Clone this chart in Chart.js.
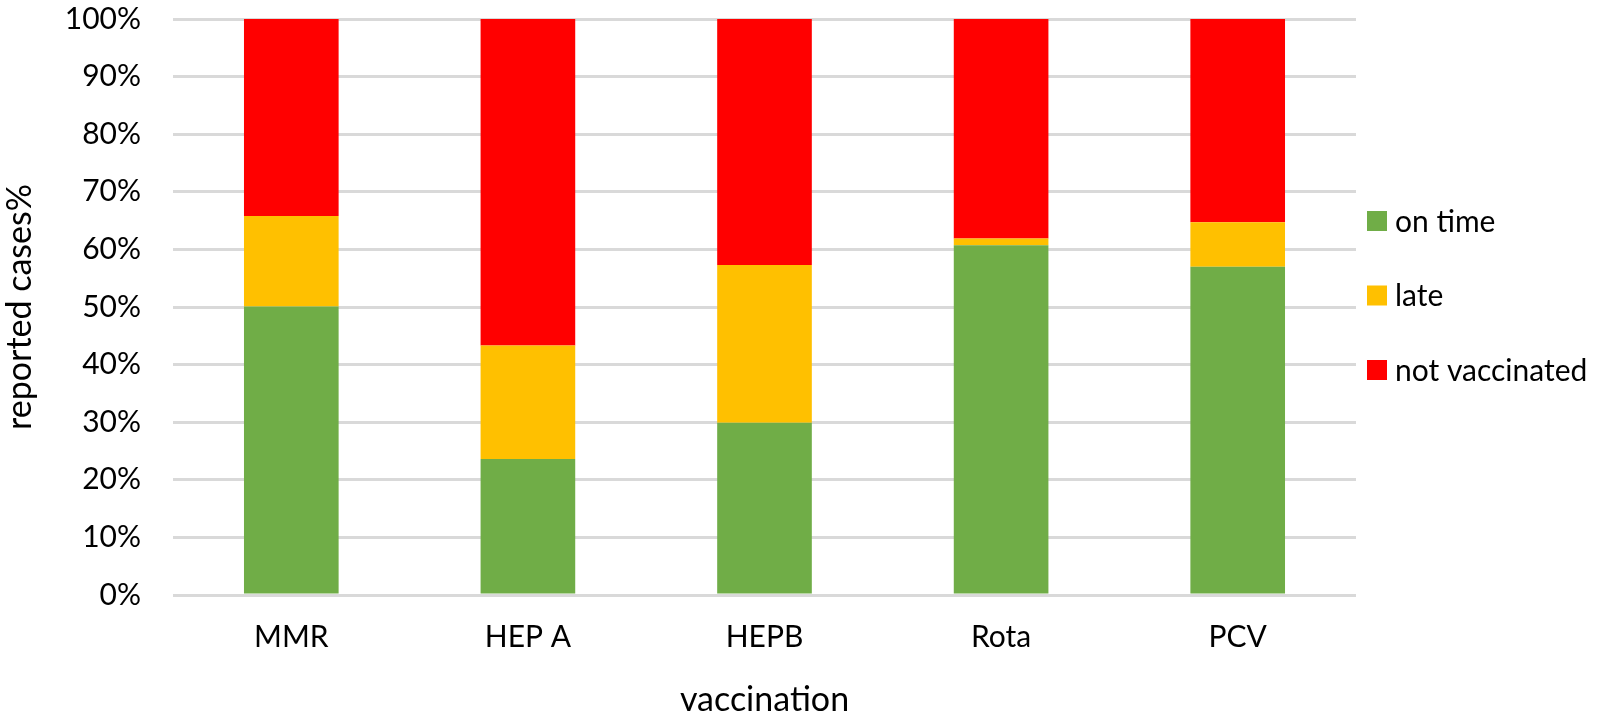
<!DOCTYPE html>
<html>
<head>
<meta charset="utf-8">
<script src="https://cdn.jsdelivr.net/npm/chart.js@4.4.1/dist/chart.umd.min.js"></script>
<style>
  html, body { margin: 0; padding: 0; background: #fff; }
  #wrap { width: 1600px; height: 720px; }
</style>
</head>
<body>
<div id="wrap"><canvas id="myChart" width="1600" height="720"></canvas></div>
<script>
var vacunas = ["MMR", "HEP A", "HEPB", "Rota", "PCV"];
var a_tiempo = [50.1, 23.6, 29.9, 60.7, 57.0];
var tarde = [15.7, 19.7, 27.4, 1.2, 7.7];
var no_vacunados = [34.2, 56.7, 42.7, 38.1, 35.3];
var ticks_y = [0, 10, 20, 30, 40, 50, 60, 70, 80, 90, 100];

var fuente = "Lato, 'Noto Sans', sans-serif";

// legend drawn by hand, to the right of the plot
var leyenda = {
  id: 'leyenda',
  afterDraw: function (chart) {
    var ctx = chart.ctx;
    var x = chart.chartArea.right + 11;
    ctx.save();
    ctx.font = "30px " + fuente;
    ctx.textBaseline = "middle";
    ctx.textAlign = "left";
    chart.data.datasets.forEach(function (ds, i) {
      var cy = 221 + i * 74.5;
      ctx.fillStyle = ds.backgroundColor;
      ctx.fillRect(x, cy - 10, 20, 20);
      ctx.fillStyle = "#000";
      ctx.fillText(ds.label, x + 28, cy + 1);
    });
    ctx.restore();
  }
};

new Chart(document.getElementById("myChart"), {
  type: 'bar',
  data: {
    labels: vacunas,
    datasets: [
      { label: "on time", backgroundColor: "#70AD47", data: a_tiempo },
      { label: "late", backgroundColor: "#FFC000", data: tarde },
      { label: "not vaccinated", backgroundColor: "#FF0000", data: no_vacunados }
    ]
  },
  plugins: [leyenda],
  options: {
    responsive: false,
    animation: false,
    layout: { padding: { left: 0, right: 244, top: 19, bottom: 0 } },
    datasets: { bar: { barPercentage: 0.40, categoryPercentage: 1.0 } },
    plugins: {
      legend: { display: false },
      tooltip: { enabled: false }
    },
    scales: {
      x: {
        stacked: true,
        grid: { display: false, drawTicks: false },
        border: { display: false },
        ticks: { font: { family: fuente, size: 30 }, color: "#000", padding: 24, maxRotation: 0 },
        title: { display: true, text: "vaccination", font: { family: fuente, size: 34 }, color: "#000", padding: { top: 24, bottom: 0 } },
        afterFit: function (axis) { axis.height = 125; }
      },
      y: {
        stacked: true,
        min: 0,
        max: 100,
        afterBuildTicks: function (axis) {
          axis.ticks = ticks_y.map(function (v) { return { value: v }; });
        },
        afterFit: function (axis) {
          axis.width = 173;
          axis.paddingTop = 0;
          axis.paddingBottom = 0;
        },
        grid: { color: "#D9D9D9", lineWidth: 3, drawTicks: false },
        border: { display: false },
        ticks: {
          font: { family: fuente, size: 30 },
          color: "#000",
          padding: 32,
          callback: function (v) { return v + "%"; }
        },
        title: { display: true, text: "reported cases%", font: { family: fuente, size: 34 }, color: "#000", padding: { top: 0, bottom: 0 } }
      }
    }
  }
});
</script>
</body>
</html>
